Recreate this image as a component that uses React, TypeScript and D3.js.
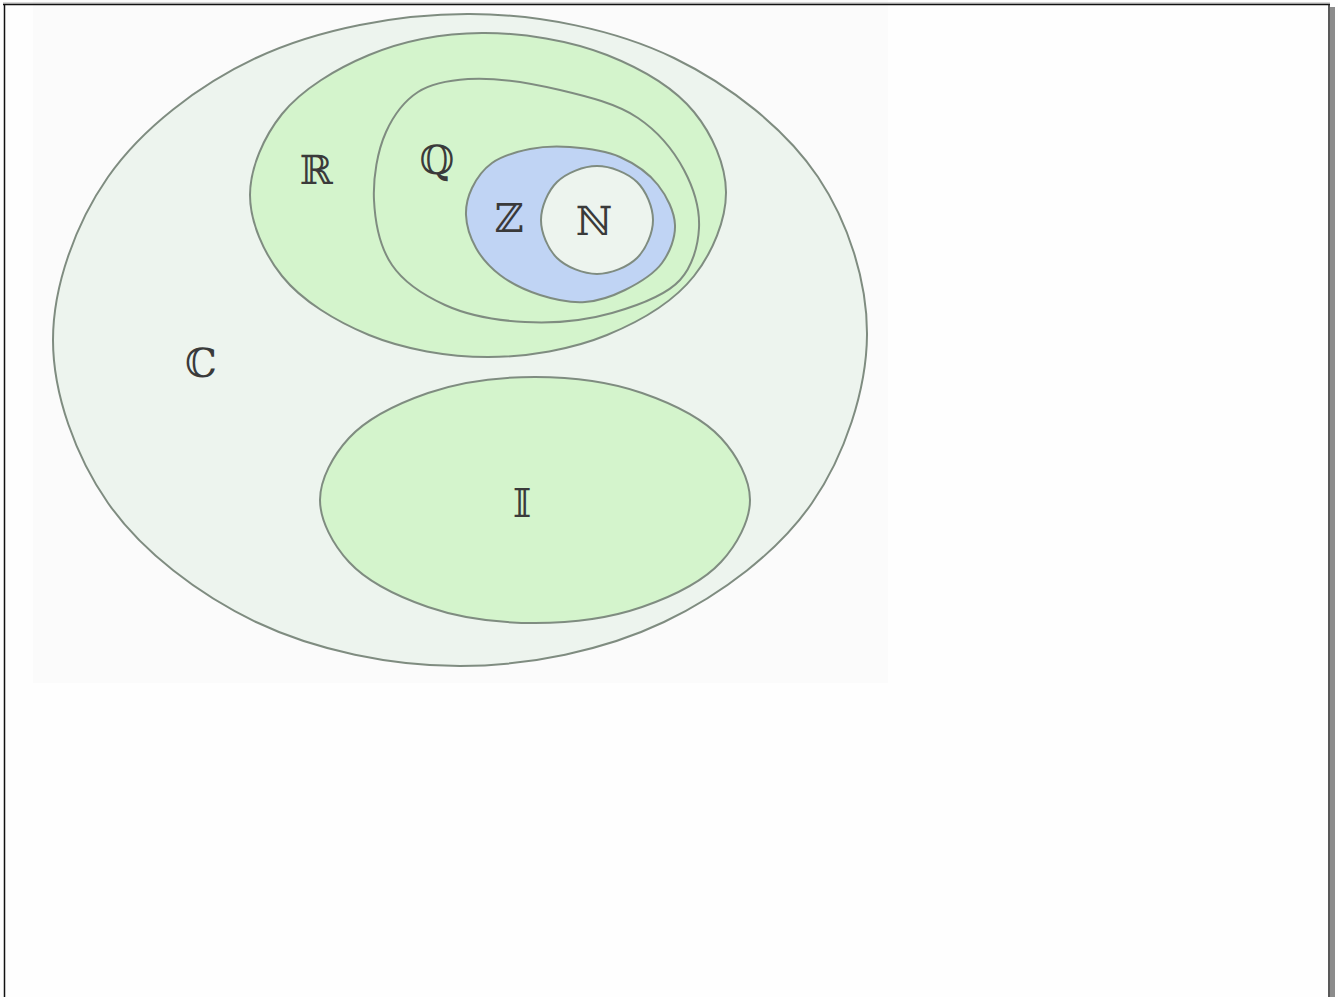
import * as d3 from "d3";

const W = 1338;
const H = 997;

// outline of each set, as points on the reference sheet
const setNames = ["C", "R", "Q", "Z", "N", "I"];
const setLabels = ["ℂ", "ℝ", "ℚ", "ℤ", "ℕ", "𝕀"];
const labelPos = [
  [201, 363],
  [316, 170],
  [437, 160],
  [509, 218],
  [594, 221],
  [522, 503],
];
const outlineC = [
  [867, 335], [812, 503], [664, 622], [460, 666], [256, 622], [108, 503],
  [53, 340], [108, 177], [256, 58], [470, 14], [674, 58], [818, 177],
];
const outlineR = [
  [726, 192], [694, 276], [607, 335], [488, 357], [369, 335], [282, 276],
  [250, 195], [282, 114], [369, 55], [482, 33], [607, 55], [694, 112],
];
const outlineQ = [
  [468, 79], [560, 90], [638, 118], [684, 170], [699, 228], [680, 280],
  [612, 313], [525, 322], [445, 305], [392, 265], [374, 200], [386, 132], [418, 92],
];
const outlineZ = [
  [466, 215], [472, 188], [492, 163], [530, 149], [570, 147], [620, 157],
  [658, 185], [675, 225], [662, 263], [625, 290], [585, 302], [540, 295],
  [500, 275], [476, 248],
];
const outlineN = [
  [653, 220], [637, 258], [597, 274], [557, 258], [541, 220], [557, 182],
  [597, 166], [637, 182],
];
const outlineI = [
  [750, 500], [721, 562], [642, 607], [535, 623], [428, 607], [349, 562],
  [320, 500], [349, 438], [428, 393], [535, 377], [642, 393], [721, 438],
];
const outlines = [outlineC, outlineR, outlineQ, outlineZ, outlineN, outlineI];
const setFills = ["#edf4ee", "#d4f4cc", "#d4f4cc", "#c0d4f4", "#edf4ee", "#d4f4cc"];

export default function App() {
  const x = d3.scaleLinear().domain([0, 1338]).range([0, W]);
  const y = d3.scaleLinear().domain([0, 997]).range([0, H]);

  const line = d3
    .line<number[]>()
    .x((d) => x(d[0]))
    .y((d) => y(d[1]))
    .curve(d3.curveCatmullRomClosed.alpha(0.5));

  return (
    <svg
      width={W}
      height={H}
      style={{ position: "fixed", left: 0, top: 0, background: "#fefefe" }}
    >
      <rect x={33} y={0} width={855} height={683} fill="#fbfbfb" />
      {/* frame */}
      <rect x={1330} y={7} width={5} height={H - 7} fill="#8c8c8c" />
      <line x1={3} x2={1330} y1={3} y2={3} stroke="#b0b0b0" strokeWidth={1} />
      <line x1={3} x2={1330} y1={4.5} y2={4.5} stroke="#111" strokeWidth={1.5} />
      <line x1={4.5} x2={4.5} y1={4} y2={H} stroke="#111" strokeWidth={1.5} />
      <line x1={1329} x2={1329} y1={4} y2={H} stroke="#222" strokeWidth={1.5} />

      {outlines.map((pts, i) => (
        <path
          key={setNames[i]}
          d={line(pts) || ""}
          fill={setFills[i]}
          stroke="#7f8c80"
          strokeWidth={2}
        />
      ))}

      {setLabels.map((lab, i) => (
        <text
          key={lab}
          x={x(labelPos[i][0])}
          y={y(labelPos[i][1])}
          textAnchor="middle"
          dominantBaseline="central"
          fontFamily="'DejaVu Serif', 'DejaVu Sans', serif"
          fontSize={40}
          fill="#3a3a3a"
        >
          {lab}
        </text>
      ))}
    </svg>
  );
}
